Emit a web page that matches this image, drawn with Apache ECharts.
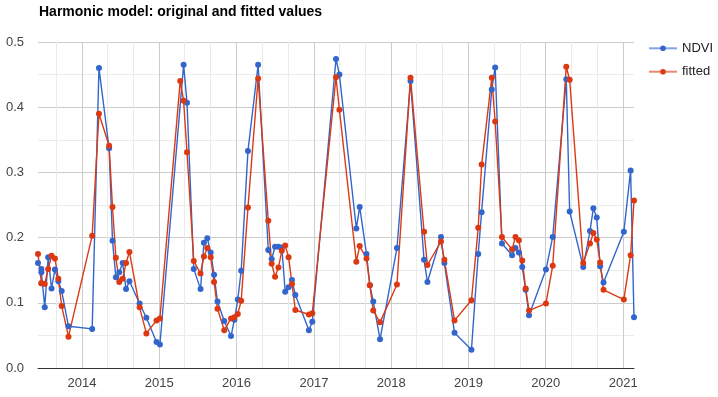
<!DOCTYPE html>
<html>
<head>
<meta charset="utf-8">
<script src="https://cdn.jsdelivr.net/npm/echarts@6/dist/echarts.min.js"></script>
<style>
	html, body { margin: 0; padding: 0; background: #fff; }
	#dataView { width: 718px; height: 397px; }
</style>
</head>
<body>
<div id="dataView"></div>
<script>
// 影像日期 (16天重访)
var dates = [
	'2013-06-07','2013-06-23','2013-06-23','2013-07-09','2013-07-25','2013-08-10','2013-08-26','2013-09-11','2013-09-27','2013-10-29',
	'2014-02-18','2014-03-22','2014-05-09','2014-05-25','2014-06-10','2014-06-26','2014-07-12','2014-07-28','2014-08-13','2014-09-30','2014-11-01','2014-12-19',
	'2015-01-04','2015-04-10','2015-04-26','2015-05-12','2015-06-13','2015-07-15','2015-07-31','2015-08-16','2015-09-01','2015-09-17','2015-10-03','2015-11-04','2015-12-06','2015-12-22',
	'2016-01-07','2016-01-23','2016-02-24','2016-04-12','2016-05-30','2016-06-15','2016-07-01','2016-07-17','2016-08-02','2016-08-18','2016-09-03','2016-09-19','2016-10-05','2016-12-08','2016-12-24',
	'2017-04-15','2017-05-01','2017-07-20','2017-08-05','2017-09-06','2017-09-22','2017-10-08','2017-11-09',
	'2018-01-28','2018-04-02','2018-06-05','2018-06-21','2018-08-24','2018-09-09','2018-10-27',
	'2019-01-15','2019-02-16','2019-03-04','2019-04-21','2019-05-07','2019-06-08','2019-07-26','2019-08-11','2019-08-27','2019-09-12','2019-09-28','2019-10-14',
	'2020-01-02','2020-02-03','2020-04-07','2020-04-23','2020-06-26','2020-07-28','2020-08-13','2020-08-29','2020-09-14','2020-09-30',
	'2021-01-04','2021-02-05','2021-02-21'
];

// 原始 NDVI
var ndvi = [
	0.161, 0.152, 0.147, 0.093, 0.170, 0.122, 0.151, 0.133, 0.118, 0.064,
	0.060, 0.460, 0.337, 0.195, 0.139, 0.147, 0.161, 0.121, 0.133, 0.099, 0.077, 0.040,
	0.036, null, 0.465, 0.407, 0.152, 0.121, 0.192, 0.199, 0.177, 0.143, 0.102, 0.072, 0.049, 0.074,
	0.105, 0.149, 0.333, 0.465, 0.181, 0.167, 0.186, 0.186, 0.185, 0.117, 0.124, 0.135, 0.112, 0.058, 0.071,
	0.474, 0.450, 0.214, 0.247, 0.175, 0.127, 0.102, 0.044,
	0.184, 0.440, 0.166, 0.132, 0.201, 0.161, 0.054,
	0.028, 0.175, 0.239, 0.427, 0.461, 0.191, 0.173, 0.184, 0.177, 0.155, 0.120, 0.081,
	0.151, 0.201, 0.443, 0.240, 0.155, 0.210, 0.245, 0.231, 0.156, 0.131,
	0.209, 0.303, 0.078
];

// 谐波模型拟合值
var fitted = [
	0.175, 0.130, 0.130, 0.129, 0.152, 0.172, 0.168, 0.137, 0.095, 0.048,
	0.203, 0.390, 0.341, 0.247, 0.169, 0.132, 0.137, 0.161, 0.178, 0.093, 0.053, 0.073,
	0.076, 0.440, 0.410, 0.331, 0.164, 0.145, 0.171, 0.184, 0.170, 0.132, 0.091, 0.058, 0.076, 0.078,
	0.083, 0.103, 0.246, 0.444, 0.226, 0.160, 0.140, 0.154, 0.180, 0.188, 0.170, 0.129, 0.089, 0.082, 0.084,
	0.446, 0.396, 0.163, 0.187, 0.168, 0.127, 0.088, 0.070,
	0.128, 0.445, 0.209, 0.158, 0.194, 0.166, 0.073,
	0.104, 0.215, 0.312, 0.445, 0.378, 0.201, 0.182, 0.201, 0.196, 0.165, 0.122, 0.088,
	0.099, 0.157, 0.462, 0.442, 0.161, 0.191, 0.207, 0.197, 0.162, 0.120,
	0.105, 0.173, 0.257
];

var yearLabels = [2014, 2015, 2016, 2017, 2018, 2019, 2020, 2021];

function toTime(s) {
	var p = s.split('-');
	return new Date(+p[0], +p[1] - 1, +p[2]).getTime();
}

function pairs(values) {
	var out = [];
	for (var i = 0; i < dates.length; i++) {
		out.push([toTime(dates[i]), values[i]]);
	}
	return out;
}

function chart() {
	var tMin = toTime(dates[0]);
	var tMax = toTime(dates[dates.length - 1]);

	// 年份主网格线 + 每4个月的次网格线
	var yearTicks = [];
	var minorTicks = [];
	for (var y = 2013; y <= 2021; y++) {
		var ticks = [new Date(y, 0, 1).getTime(), new Date(y, 4, 1).getTime(), new Date(y, 8, 1).getTime()];
		if (yearLabels.indexOf(y) >= 0) yearTicks.push(ticks[0]);
		for (var k = 1; k < 3; k++) {
			if (ticks[k] > tMin && ticks[k] < tMax) minorTicks.push(ticks[k]);
		}
	}

	var dataViewcharts = echarts.init(document.getElementById('dataView'), null, { renderer: 'canvas' });
	var dataViewoption = {
		animation: false,
		backgroundColor: '#fff',
		textStyle: { fontFamily: 'Arial, "Liberation Sans", sans-serif' },
		title: {
			text: 'Harmonic model: original and fitted values',
			left: 39,
			top: 5,
			padding: 0,
			textStyle: { fontSize: 14, fontWeight: 'bold', color: '#000' }
		},
		legend: {
			orient: 'vertical',
			left: 648,
			top: 41.8,
			padding: 0,
			itemWidth: 28,
			itemHeight: 7,
			itemGap: 10.4,
			textStyle: { fontSize: 13, color: '#222' },
			lineStyle: { width: 2, opacity: 0.6 },
			data: ['NDVI', 'fitted']
		},
		grid: {
			left: 38,
			right: 84,
			top: 42,
			bottom: 29,
			outerBoundsMode: 'none'
		},
		xAxis: [
			{
				type: 'value',
				min: tMin,
				max: tMax,
				axisLine: { show: true, onZero: false, lineStyle: { color: '#333', width: 1 } },
				axisTick: { show: false, customValues: yearTicks },
				axisLabel: {
					customValues: yearTicks,
					color: '#444',
					fontSize: 13,
					margin: 9,
					formatter: function (v) { return String(new Date(v).getFullYear()); }
				},
				splitLine: { show: true, lineStyle: { color: '#ccc', width: 1 } }
			},
			{
				type: 'value',
				min: tMin,
				max: tMax,
				position: 'bottom',
				axisLine: { show: false },
				axisTick: { show: false, customValues: minorTicks },
				axisLabel: { show: false, customValues: minorTicks },
				splitLine: { show: true, lineStyle: { color: '#ebebeb', width: 1 } }
			}
		],
		yAxis: {
			type: 'value',
			min: 0,
			max: 0.5,
			interval: 0.1,
			axisLine: { show: false },
			axisTick: { show: false },
			axisLabel: {
				color: '#444',
				fontSize: 13,
				margin: 14,
				formatter: function (v) { return v.toFixed(1); }
			},
			splitLine: { lineStyle: { color: '#ccc', width: 1 } },
			minorTick: { show: false, splitNumber: 2 },
			minorSplitLine: { show: true, lineStyle: { color: '#ebebeb', width: 1 } }
		},
		series: [
			{
				name: 'NDVI',
				type: 'line',
				data: pairs(ndvi),
				connectNulls: true,
				symbol: 'circle',
				symbolSize: 6,
				showAllSymbol: true,
				color: '#3366cc',
				lineStyle: { width: 1.4, color: '#3366cc' },
				itemStyle: { color: '#3366cc' },
				emphasis: { disabled: true }
			},
			{
				name: 'fitted',
				type: 'line',
				data: pairs(fitted),
				symbol: 'circle',
				symbolSize: 6,
				showAllSymbol: true,
				color: '#dc3912',
				lineStyle: { width: 1.4, color: '#dc3912' },
				itemStyle: { color: '#dc3912' },
				emphasis: { disabled: true }
			}
		]
	};
	dataViewcharts.setOption(dataViewoption);
}

chart();
</script>
</body>
</html>
